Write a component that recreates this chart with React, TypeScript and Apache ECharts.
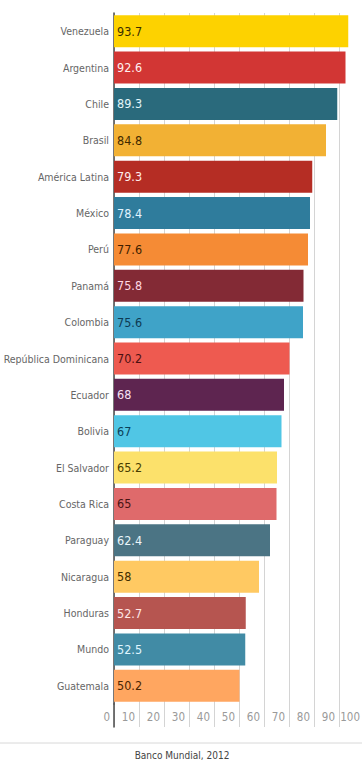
import React, { useEffect, useRef } from "react";
import * as echarts from "echarts";

const categories = [
  "Venezuela", "Argentina", "Chile", "Brasil", "América Latina", "México", "Perú", "Panamá",
  "Colombia", "República Dominicana", "Ecuador", "Bolivia", "El Salvador", "Costa Rica",
  "Paraguay", "Nicaragua", "Honduras", "Mundo", "Guatemala",
];
const values = [93.7, 92.6, 89.3, 84.8, 79.3, 78.4, 77.6, 75.8, 75.6, 70.2, 68, 67, 65.2, 65, 62.4, 58, 52.7, 52.5, 50.2];
const barColors = [
  "#FDD200", "#D23634", "#2A6A7C", "#F2B134", "#B52D24", "#2F7C9C", "#F58B35", "#832A35",
  "#3FA3C8", "#EE5A50", "#5E2550", "#50C6E5", "#FCE16B", "#DF6A6B", "#4B7484", "#FFC962",
  "#B65550", "#418BA5", "#FFA660",
];
const labelColors = [
  "#3A2E00", "#FFF0F0", "#E4F6FA", "#3F2A00", "#FFEDED", "#E0F4FF", "#3F1F00", "#FFD8E2",
  "#0E3A52", "#4A1010", "#F6E2F2", "#0B3F58", "#463C00", "#4A1414", "#EAF6FA", "#3F2D00",
  "#FFE6E6", "#E0F6FF", "#4A2400",
];
const xTicks = [0, 10, 20, 30, 40, 50, 60, 70, 80, 90, 100];
const source = "Banco Mundial, 2012";

const FONT = "'DejaVu Sans Condensed', sans-serif";

export default function App() {
  const ref = useRef<HTMLDivElement>(null);
  useEffect(() => {
    if (!ref.current) return;
    const chart = echarts.init(ref.current, null, { renderer: "svg" });
    const splitLine = { show: true, lineStyle: { color: "#d4d4d4", width: 1 } };
    chart.setOption({
      animation: false,
      backgroundColor: "#ffffff",
      textStyle: { fontFamily: FONT },
      grid: [
        { left: 114, width: 250, top: 13, height: 691, outerBoundsMode: "none", containLabel: false },
        { left: 114, width: 250, top: 704, height: 23, outerBoundsMode: "none", containLabel: false },
      ],
      xAxis: [
        {
          type: "value", gridIndex: 0, min: 0, max: 100, interval: 10,
          axisLine: { show: false }, axisTick: { show: false }, axisLabel: { show: false },
          splitLine,
        },
        {
          type: "value", gridIndex: 1, min: 0, max: 100, interval: 10,
          axisLine: { show: false }, axisTick: { show: false },
          axisLabel: {
            show: true, inside: true, margin: 4, align: "right", padding: [0, 4, 0, 0],
            color: "#9a9a9a", fontSize: 11.5, fontFamily: FONT,
            customValues: xTicks,
          },
          splitLine,
        },
      ],
      yAxis: [
        {
          type: "category", gridIndex: 0, data: categories, inverse: true,
          axisLine: { show: true, lineStyle: { color: "#4a4a4a", width: 1.5 } },
          axisTick: { show: false },
          axisLabel: { color: "#666666", fontSize: 10.5, margin: 5, fontFamily: FONT },
          splitLine: { show: false },
        },
        {
          type: "value", gridIndex: 1, min: 0, max: 1,
          axisLine: { show: true, onZero: false, lineStyle: { color: "#4a4a4a", width: 1.5 } },
          axisTick: { show: false }, axisLabel: { show: false }, splitLine: { show: false },
        },
      ],
      series: [
        {
          type: "bar",
          xAxisIndex: 0,
          yAxisIndex: 0,
          barCategoryGap: "12%",
          data: values.map((v, i) => ({
            value: v,
            itemStyle: { color: barColors[i] },
            label: { color: labelColors[i] },
          })),
          label: {
            show: true, position: "insideLeft", distance: 3,
            fontSize: 12.5, fontFamily: FONT,
          },
        },
      ],
      graphic: [
        { type: "line", shape: { x1: 0, y1: 743, x2: 362, y2: 743 }, style: { stroke: "#d8d8d8", lineWidth: 1 } },
        {
          type: "text", x: 182, y: 755,
          style: { text: source, fill: "#444", fontSize: 10, fontFamily: FONT, align: "center", verticalAlign: "middle" },
        },
      ],
    });
    return () => chart.dispose();
  }, []);
  return <div ref={ref} style={{ position: "fixed", left: 0, top: 0, width: 362, height: 760 }} />;
}
